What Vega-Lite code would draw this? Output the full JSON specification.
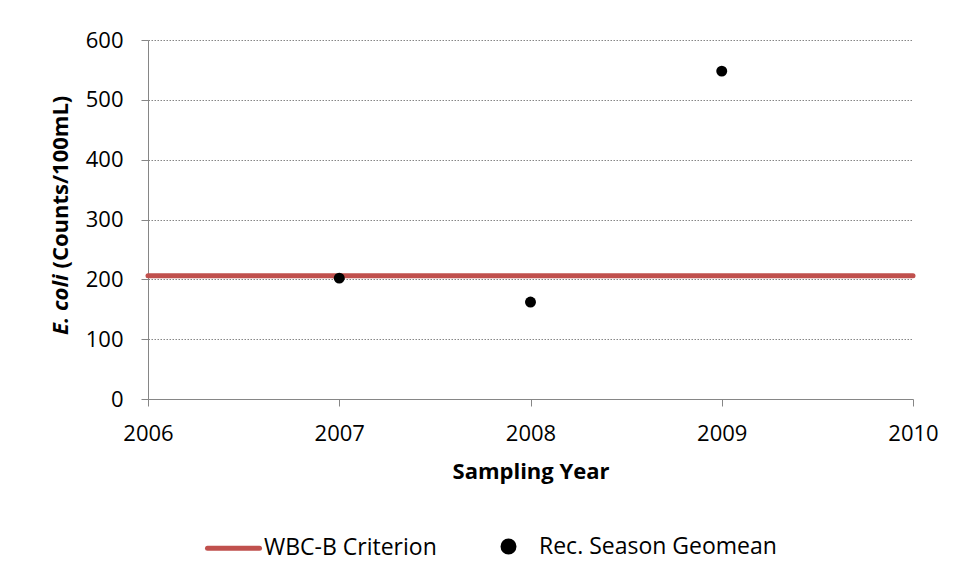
{
  "$schema": "https://vega.github.io/schema/vega-lite/v6.json",
  "width": 765,
  "height": 359,
  "autosize": {"type": "none"},
  "padding": {"left": 148, "top": 40, "right": 45, "bottom": 184},
  "background": "white",
  "config": {
    "view": {"stroke": null},
    "font": "Open Sans",
    "axis": {
      "domainColor": "#868686",
      "domainWidth": 1,
      "tickColor": "#868686",
      "tickSize": 7,
      "labelColor": "#000000",
      "titleColor": "#000000",
      "labelFont": "Open Sans",
      "titleFont": "Open Sans",
      "labelFontSize": 22,
      "titleFontSize": 22,
      "titleFontWeight": "bold"
    }
  },
  "datasets": {
    "criterion": [
      {"year": 2006, "ecoli": 206, "series": "WBC-B Criterion"},
      {"year": 2010, "ecoli": 206, "series": "WBC-B Criterion"}
    ],
    "geomean": [
      {"year": 2007, "ecoli": 202, "series": "Rec. Season Geomean"},
      {"year": 2008, "ecoli": 162, "series": "Rec. Season Geomean"},
      {"year": 2009, "ecoli": 548, "series": "Rec. Season Geomean"}
    ]
  },
  "encoding": {
    "x": {
      "field": "year",
      "type": "quantitative",
      "scale": {"domain": [2006, 2010], "nice": false, "zero": false},
      "axis": {
        "values": [2006, 2007, 2008, 2009, 2010],
        "format": "d",
        "title": "Sampling Year",
        "grid": false,
        "labelFlush": false,
        "labelPadding": 17,
        "titlePadding": 17
      }
    },
    "color": {
      "field": "series",
      "type": "nominal",
      "scale": {"domain": ["WBC-B Criterion", "Rec. Season Geomean"], "range": ["#C0504D", "#000000"]},
      "legend": {
        "title": null,
        "orient": "none",
        "legendX": 74,
        "legendY": 495,
        "direction": "horizontal",
        "columnPadding": 56,
        "padding": 0,
        "labelFont": "Open Sans",
        "labelFontSize": 23,
        "labelColor": "#000000",
        "labelLimit": 0,
        "labelOffset": 19,
        "symbolSize": 2500,
        "symbolStrokeWidth": 5,
        "encode": {
          "symbols": {
            "update": {
              "shape": {"signal": "datum.value === 'WBC-B Criterion' ? 'stroke' : 'circle'"},
              "size": {"signal": "datum.value === 'WBC-B Criterion' ? 2704 : 120"},
              "fill": {"signal": "datum.value === 'WBC-B Criterion' ? 'transparent' : '#000000'"},
              "stroke": {"signal": "datum.value === 'WBC-B Criterion' ? '#C0504D' : 'transparent'"},
              "strokeWidth": {"value": 5},
              "strokeCap": {"value": "round"},
              "opacity": {"value": 1}
            }
          }
        }
      }
    }
  },
  "layer": [
    {
      "data": {"name": "criterion"},
      "mark": {"type": "line", "strokeWidth": 5, "strokeCap": "round"},
      "encoding": {
        "y": {
          "field": "ecoli",
          "type": "quantitative",
          "scale": {"domain": [0, 600], "nice": false},
          "axis": {
            "orient": "left",
            "values": [0, 100, 200, 300, 400, 500, 600],
            "grid": true,
            "gridColor": "#868686",
            "gridDash": [1.5, 1.5],
            "gridWidth": 1,
            "labelPadding": 18,
            "title": "(Counts/100mL)",
            "titleAngle": -90,
            "titleX": -88,
            "titleY": 228,
            "titleAlign": "left",
            "titleBaseline": "middle"
          }
        }
      }
    },
    {
      "data": {"name": "geomean"},
      "mark": {"type": "point", "filled": true, "size": 120, "opacity": 1},
      "encoding": {
        "y": {
          "field": "ecoli",
          "type": "quantitative",
          "axis": {
            "orient": "left",
            "labels": false,
            "ticks": false,
            "domain": false,
            "grid": false,
            "title": "E. coli",
            "titleFontStyle": "italic",
            "titleAngle": -90,
            "titleX": -88,
            "titleY": 234,
            "titleAlign": "right",
            "titleBaseline": "middle"
          }
        }
      }
    }
  ],
  "resolve": {"axis": {"y": "independent"}}
}
